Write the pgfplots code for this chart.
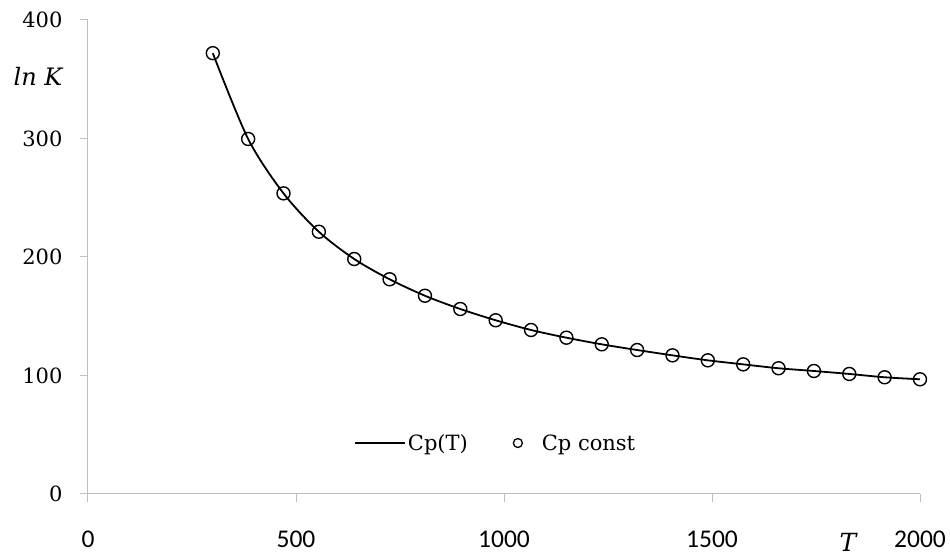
\documentclass[border=0pt]{standalone}
\usepackage{fontspec}
\setmainfont{DejaVu Serif}
\newfontfamily\calfont{Carlito}
\usepackage{pgfplots}
\pgfplotsset{compat=1.18}
\pgfplotstableread{
T lnK
300 372.0
385 299.6
470 253.7
555 221.3
640 198.3
725 181.2
810 167.3
895 156.1
980 146.6
1065 138.4
1150 131.9
1235 126.3
1320 121.5
1405 117.0
1490 112.8
1575 109.4
1660 106.1
1745 103.8
1830 101.3
1915 98.5
2000 96.8
}\data
\begin{document}
\begin{tikzpicture}
\begin{axis}[
  scale only axis, width=832pt, height=474pt,
  xmin=0, xmax=2000, ymin=0, ymax=400,
  xtick={0,500,...,2000}, ytick={0,100,...,400},
  axis lines=left,
  axis line style={draw=black!25, line width=1pt, -},
  tick style={draw=black!25, line width=1pt},
  tick align=outside, major tick length=8pt,
  /pgf/number format/assume math mode=true,
  /pgf/number format/1000 sep={},
  xticklabel style={font=\fontsize{25.5}{30}\selectfont\calfont, anchor=base, yshift=-46pt},
  yticklabel style={font=\fontsize{21}{25}\selectfont, anchor=east, xshift=-14pt},
  clip=false,
  legend columns=2,
  legend style={draw=none, fill=none, at={(rel axis cs:0.49,0.1075)}, anchor=center,
    font=\fontsize{21}{25}\selectfont, inner sep=0pt,
    /tikz/every even column/.append style={column sep=40pt}},
]
\addplot[black, line width=1.8pt, smooth, mark=none,
  legend image code/.code={\draw[black, line width=1.8pt] (0pt,0pt) -- (50pt,0pt);}]
  table[x=T, y=lnK] {\data};
\addlegendentry{Cp(T)}
\addplot[only marks, mark=o, mark size=6.5pt, mark options={black, line width=1.4pt},
  legend image code/.code={\path[draw=none] (0pt,0pt) -- (30pt,0pt);
    \draw[black, line width=1.3pt] (8pt,0pt) circle (4.5pt);}]
  table[x=T, y=lnK] {\data};
\addlegendentry{Cp const}
\node at ([xshift=-50pt]rel axis cs:0,0.8818) {\fontsize{24}{28}\selectfont\itshape ln K};
\node[inner sep=0pt] at ([yshift=-48pt]axis cs:1827,0) {\fontsize{25}{30}\selectfont\itshape T};
\path ([xshift=-88pt,yshift=-64pt]rel axis cs:0,0) rectangle ([xshift=30pt,yshift=20pt]rel axis cs:1,1);
\end{axis}
\end{tikzpicture}
\end{document}
